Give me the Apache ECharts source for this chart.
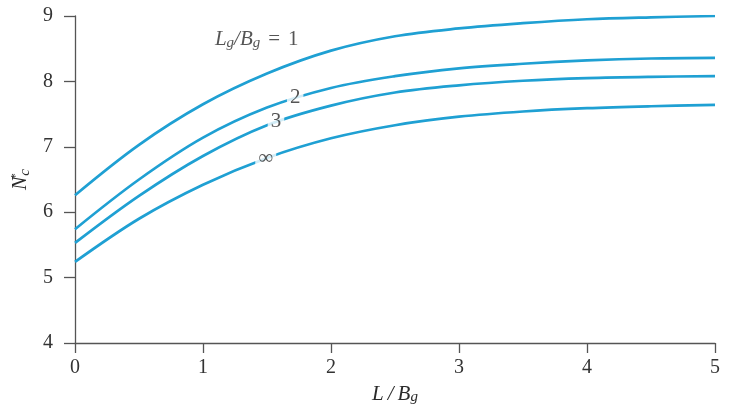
<!DOCTYPE html>
<html>
<head>
<meta charset="utf-8">
<script src="https://cdn.jsdelivr.net/npm/echarts@6/dist/echarts.min.js"></script>
<style>html,body{margin:0;padding:0;background:#fff;}#c{width:732px;height:410px;}</style>
</head>
<body>
<div id="c"></div>
<script>
// L/Bg values
const xValues = [0, 0.5, 1, 1.5, 2, 2.5, 3, 3.5, 4, 4.5, 5];
// N*c for Lg/Bg = 1, 2, 3, infinity
const nc1   = [6.26, 7.03, 7.65, 8.12, 8.47, 8.69, 8.81, 8.89, 8.95, 8.98, 9.00];
const nc2   = [5.74, 6.50, 7.14, 7.60, 7.90, 8.08, 8.20, 8.27, 8.32, 8.35, 8.36];
const nc3   = [5.53, 6.25, 6.86, 7.33, 7.63, 7.83, 7.94, 8.01, 8.05, 8.07, 8.08];
const ncInf = [5.24, 5.90, 6.42, 6.83, 7.13, 7.33, 7.46, 7.54, 7.59, 7.62, 7.64];
const seriesNames = ['1', '2', '3', '∞'];
// curve label annotations (data coordinates)
const curveLabelText = ['2', '3', '∞'];
const curveLabelX = [1.72, 1.57, 1.49];
const curveLabelY = [7.75, 7.38, 6.82];
const titleLabelX = 1.42;
const titleLabelY = 8.64;
const xTicks = [0, 1, 2, 3, 4, 5];
const yTicks = [4, 5, 6, 7, 8, 9];

const lineColor = '#1FA0D3';
const serif = '"Liberation Serif", "DejaVu Serif", serif';
const axisColor = '#555';
const txt = '#2a2a2a';

function pairs(v) { return xValues.map((x, i) => [x, v[i]]); }
const curves = [nc1, nc2, nc3, ncInf];

const series = curves.map((v, i) => ({
  name: seriesNames[i],
  type: 'line',
  smooth: 0.35,
  showSymbol: false,
  symbol: 'none',
  data: pairs(v),
  lineStyle: { color: lineColor, width: 2.7 },
  z: 2,
  silent: true
}));

series.push({
  type: 'scatter',
  symbolSize: 0,
  z: 5,
  silent: true,
  data: curveLabelText.map((t, i) => ({ value: [curveLabelX[i], curveLabelY[i]], name: t })),
  label: {
    show: true,
    position: 'inside',
    formatter: p => p.name,
    fontFamily: serif,
    fontSize: 21,
    color: txt,
    backgroundColor: '#fff',
    padding: [0, 3, 0, 3]
  }
});

const italic = { fontFamily: serif, fontStyle: 'italic', fontSize: 21, color: txt, lineHeight: 22, verticalAlign: 'middle' };
const sub = { fontFamily: serif, fontStyle: 'italic', fontSize: 15, color: txt, lineHeight: 10, verticalAlign: 'bottom' };

series.push({
  type: 'scatter',
  symbolSize: 0,
  z: 5,
  silent: true,
  data: [[titleLabelX, titleLabelY]],
  label: {
    show: true,
    position: 'inside',
    formatter: '{i|L}{s|g}{i|/B}{s|g}{n|=}{n|1}',
    rich: {
      i: italic,
      s: sub,
      n: { fontFamily: serif, fontSize: 21, color: txt, lineHeight: 22, verticalAlign: 'middle', padding: [0, 0, 0, 8] }
    }
  }
});

const chart = echarts.init(document.getElementById('c'), null, { renderer: 'canvas' });
chart.setOption({
  animation: false,
  backgroundColor: '#fff',
  grid: { left: 75, right: 17, top: 16, bottom: 67, containLabel: false },
  xAxis: {
    type: 'value',
    min: xTicks[0], max: xTicks[xTicks.length - 1], interval: 1,
    name: '{i|L}{d|/}{i|B}{s|g}',
    nameLocation: 'middle',
    nameGap: 40,
    nameTextStyle: {
      rich: {
        i: italic,
        d: Object.assign({}, italic, { padding: [0, 4, 0, 4] }),
        s: sub
      }
    },
    axisLine: { lineStyle: { color: axisColor, width: 1.3 } },
    axisTick: { show: true, length: 10, lineStyle: { color: axisColor, width: 1.3 } },
    axisLabel: { fontFamily: serif, fontSize: 20, color: '#333', margin: 15 },
    splitLine: { show: false }
  },
  yAxis: {
    type: 'value',
    min: yTicks[0], max: yTicks[yTicks.length - 1], interval: 1,
    name: '{i|N}{p|*}{s|c}',
    nameLocation: 'middle',
    nameGap: 40,
    nameRotate: 90,
    nameTextStyle: {
      rich: {
        i: Object.assign({}, italic, { fontSize: 20 }),
        p: { fontFamily: serif, fontSize: 12, color: txt, lineHeight: 10, verticalAlign: 'top', width: 1 },
        s: sub
      }
    },
    axisLine: { show: true, lineStyle: { color: axisColor, width: 1.3 } },
    axisTick: { show: true, length: 11, lineStyle: { color: axisColor, width: 1.3 } },
    axisLabel: { fontFamily: serif, fontSize: 20, color: '#333', margin: 22 },
    splitLine: { show: false }
  },
  series: series
});
</script>
</body>
</html>
